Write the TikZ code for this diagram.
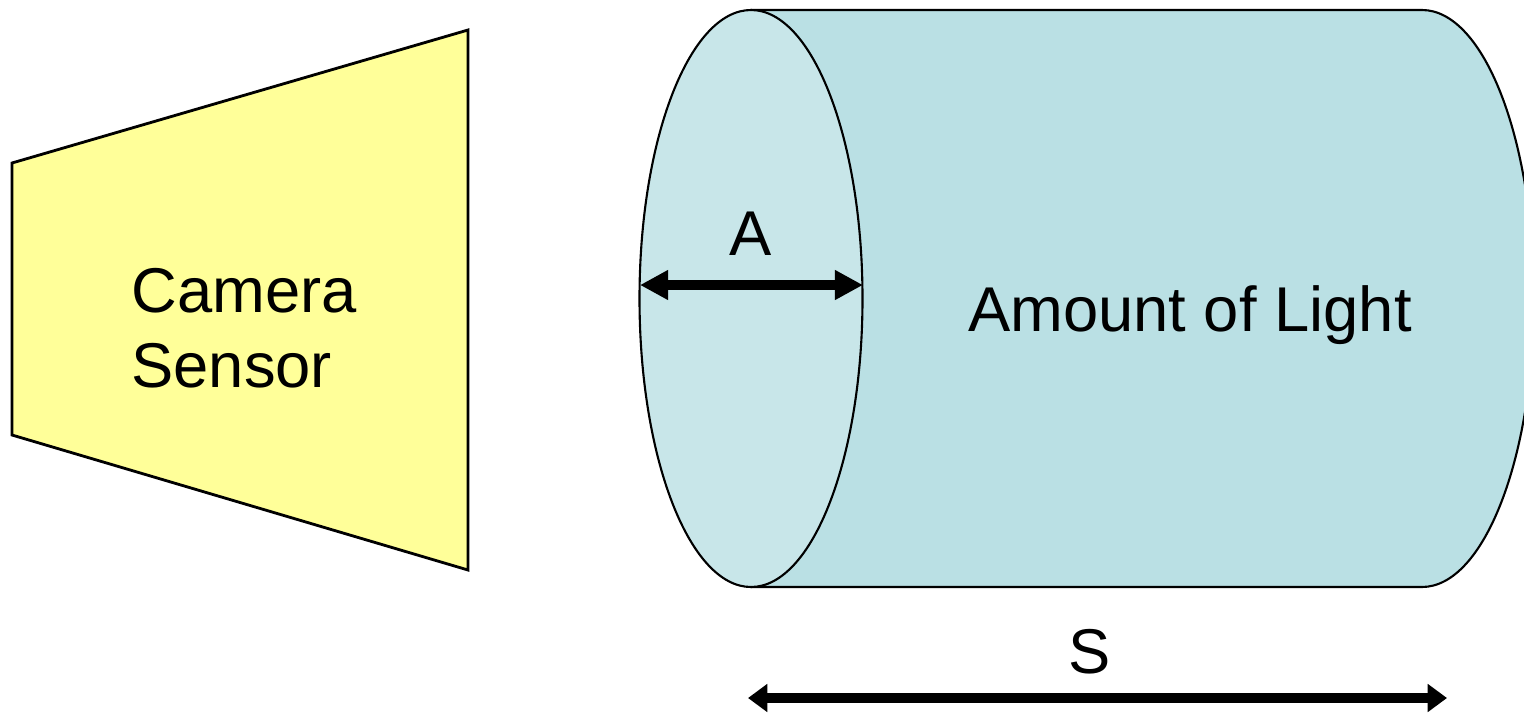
\documentclass[tikz,border=0pt]{standalone}
\usepackage{fontspec}
\setmainfont{Liberation Sans}
\usetikzlibrary{arrows.meta}
\definecolor{sensoryellow}{HTML}{FFFF99}
\definecolor{lightbody}{HTML}{BAE0E4}
\definecolor{lightface}{HTML}{C8E6E9}
\tikzset{
  label text/.style={font=\fontsize{18}{21.3}\selectfont, inner sep=0pt},
  outline/.style={draw=black, line width=0.6pt},
  measure/.style={line width=2.6pt, {Triangle[length=8pt,width=8pt]}-{Triangle[length=8pt,width=8pt]}},
  span/.style={line width=2.8pt, {Triangle[length=5.5pt,width=7.7pt]}-{Triangle[length=5.5pt,width=7.7pt]}}
}
\begin{document}
\begin{tikzpicture}[x=0.01cm, y=0.01cm]
\useasboundingbox (0,0) rectangle (1524,714);
\clip (0,0) rectangle (1524,714);

% camera sensor
\draw[fill=sensoryellow, draw=black, line width=0.8pt]
  (12,551) -- (468,684) -- (468,144) -- (12,279) -- cycle;
\node[label text, align=left] (sensor) at (244,386) {Camera\\Sensor};

% cylinder body
\fill[lightbody] (751,704) -- (1422,704) arc[start angle=90, end angle=-90, x radius=112, y radius=288.5] -- (751,127) -- cycle;
\draw[outline] (751,704) -- (1422,704) arc[start angle=90, end angle=-90, x radius=112, y radius=288.5] -- (751,127);

% front face
\draw[outline, fill=lightface] (751,415.5) ellipse[x radius=111.5, y radius=288.5];

\node[label text] (light) at (1190,399) {Amount of Light};

% aperture width
\coordinate (aL) at (640,429);
\coordinate (aR) at (863,429);
\draw[measure] (aL) -- (aR);
\node[label text] (A) at (751,480) {A};

% length
\coordinate (sL) at (748,16);
\coordinate (sR) at (1447,16);
\draw[span] (sL) -- (sR);
\node[label text] (S) at (1090,62) {S};
\end{tikzpicture}
\end{document}
